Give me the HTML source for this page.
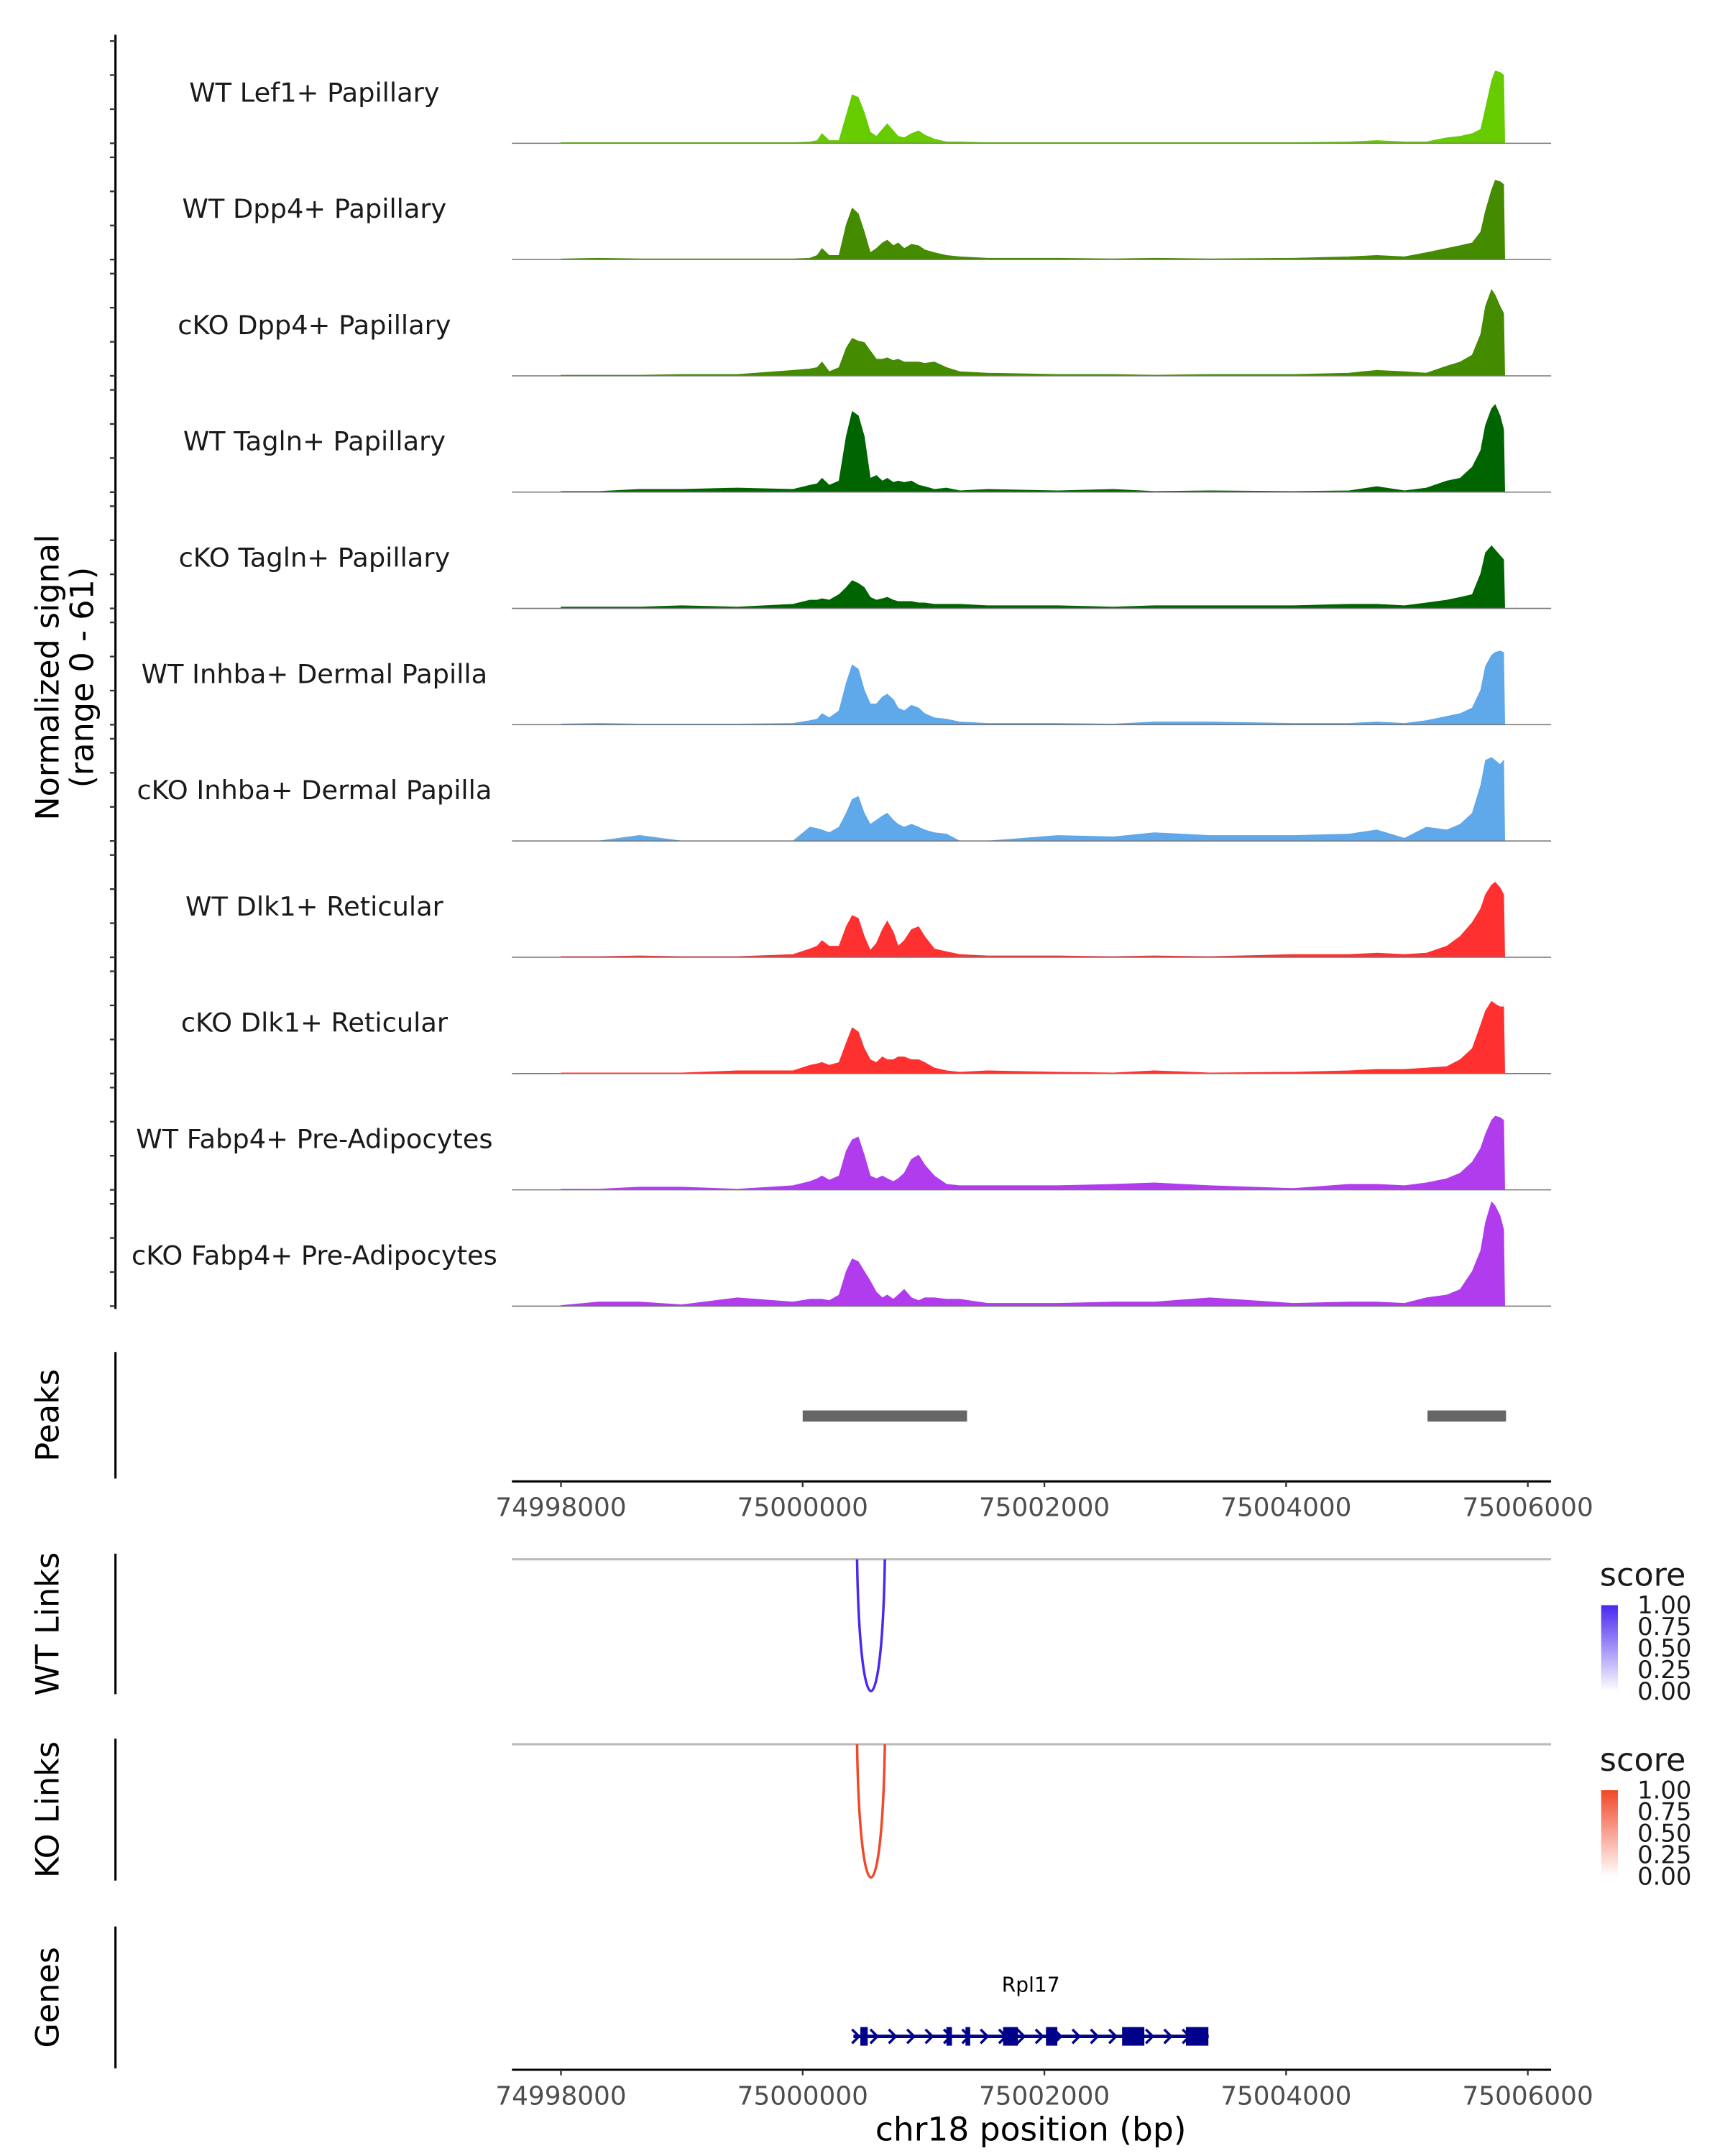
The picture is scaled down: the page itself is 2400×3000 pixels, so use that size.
<!DOCTYPE html>
<html><head><meta charset="utf-8"><style>
html,body{margin:0;padding:0;background:#fff}
svg{display:block}
text{font-family:"DejaVu Sans","Liberation Sans",sans-serif}
</style></head><body>
<svg id="chart" width="2400" height="3000" viewBox="0 0 1240 1550" xmlns="http://www.w3.org/2000/svg">
<g id="tracks"></g>
<g id="rest"></g>
</svg>
<script>
const trackNames = ["WT Lef1+ Papillary","WT Dpp4+ Papillary","cKO Dpp4+ Papillary","WT Tagln+ Papillary","cKO Tagln+ Papillary","WT Inhba+ Dermal Papilla","cKO Inhba+ Dermal Papilla","WT Dlk1+ Reticular","cKO Dlk1+ Reticular","WT Fabp4+ Pre-Adipocytes","cKO Fabp4+ Pre-Adipocytes"];
const trackColors = ["#66cc00","#458b00","#458b00","#006400","#006400","#5fa8ea","#5fa8ea","#ff3030","#ff3030","#b03cee","#b03cee"];
const positions = [74998000,74998310,74998650,74999000,74999460,74999920,75000060,75000120,75000160,75000220,75000300,75000360,75000410,75000460,75000510,75000560,75000610,75000660,75000700,75000750,75000790,75000840,75000900,75000960,75001010,75001090,75001190,75001300,75001530,75002110,75002570,75002910,75003370,75004060,75004520,75004750,75004980,75005160,75005330,75005440,75005540,75005610,75005650,75005700,75005730,75005770,75005800,75005810];
const sigLef1WT   = [0.5,0.5,0.5,0.5,0.5,0.5,1,2,7,2,2,20,35,33,22,8,5,10,14,9,5,4,7,9,6,3,1,1,0.5,0.5,0.5,0.5,0.5,0.5,1,2,1,1,4,5,7,10,25,45,52,51,49,0];
const sigDpp4WT   = [0.5,1,0.5,0.5,0.5,0.5,1,3,8,3,3,25,37,33,20,5,8,12,14,10,12,8,11,10,7,5,3,2,1,1,0.5,1,0.5,1,2,3,2,5,8,10,12,20,35,50,57,56,54,0];
const sigDpp4KO   = [0.5,0.5,0.5,1,1,4,5,6,10,3,6,20,27,25,24,18,12,12,13,11,12,10,10,10,9,10,6,3,2,1,1,0.5,1,1,2,4,3,2,7,10,15,30,50,62,58,50,45,0];
const sigTaglnWT  = [0.5,0.5,2,2,3,2,5,6,10,5,8,40,58,55,40,10,12,8,10,7,8,7,8,5,4,2,3,1,2,1,2,0.5,1,0.5,1,4,1,3,8,10,18,30,48,60,63,55,45,0];
const sigTaglnKO  = [1,1,1,2,1,3,6,6,7,6,10,15,20,18,15,8,6,7,8,6,5,5,5,4,4,3,3,3,2,2,1,2,2,2,3,3,2,4,6,8,10,25,40,45,42,38,35,0];
const sigInhbaWT  = [0.5,1,0.5,0.5,0.5,1,3,4,8,5,10,30,43,40,25,15,15,20,22,18,12,10,14,12,8,5,4,2,1,1,0.5,2,2,1,1,2,1,3,6,8,12,25,42,50,52,53,52,0];
const sigInhbaKO  = [0,0,4,0,0,0,10,9,8,6,10,20,30,32,20,12,15,18,20,15,12,10,12,10,8,6,5,0,0,4,3,6,4,4,5,8,2,10,8,12,20,40,58,60,58,55,58,0];
const sigDlk1WT   = [0.5,0.5,1,0.5,0.5,2,6,8,12,8,8,22,30,28,15,5,10,20,26,18,8,12,20,22,15,6,4,2,1,1,0.5,1,0.5,2,2,3,2,3,8,15,25,35,45,52,54,50,45,0];
const sigDlk1KO   = [0.5,0.5,0.5,0.5,2,2,6,7,8,6,8,22,33,30,18,10,8,12,10,10,12,12,10,10,8,4,2,1,2,1,0.5,2,0.5,1,2,3,3,4,5,10,18,35,45,52,50,48,48,0];
const sigFabp4WT  = [0.5,0.5,2,2,0.5,3,6,8,10,7,10,28,36,38,25,10,8,10,8,6,8,12,22,25,18,10,4,3,3,3,4,5,3,1,4,4,3,5,8,12,20,30,40,50,53,52,50,0];
const sigFabp4KO  = [0.5,3,3,1,6,3,5,5,5,4,8,25,34,32,25,18,10,6,8,5,8,12,6,4,6,6,5,5,2,2,3,3,6,2,3,3,2,6,8,12,25,40,60,75,72,65,55,0];
const trackSignals = [sigLef1WT,sigDpp4WT,sigDpp4KO,sigTaglnWT,sigTaglnKO,sigInhbaWT,sigInhbaKO,sigDlk1WT,sigDlk1KO,sigFabp4WT,sigFabp4KO];
const xTicks = [74998000,75000000,75002000,75004000,75006000];
const peakStarts = [75000000,75005170];
const peakEnds = [75001360,75005820];
const linkStartWT = 75000450, linkEndWT = 75000680, linkScoreWT = 0.9;
const linkStartKO = 75000450, linkEndKO = 75000680, linkScoreKO = 0.9;
const geneStart = 75000420, geneEnd = 75003360;
const exonStarts = [75000477,75001189,75001347,75001658,75002013,75002643,75003171];
const exonEnds   = [75000538,75001235,75001386,75001781,75002107,75002827,75003357];
const legendTicks = ["1.00","0.75","0.50","0.25","0.00"];

const NS="http://www.w3.org/2000/svg";
function mk(tag,attrs,parent){const e=document.createElementNS(NS,tag);for(const k in attrs)e.setAttribute(k,attrs[k]);parent.appendChild(e);return e;}
const X0=368,X1=1115;
function xs(bp){return 577+(bp-75000000)*0.086875;}
function ys(base,v){return base-v*1.0;}
const tracksG=document.getElementById('tracks');
const restG=document.getElementById('rest');

let e;
e=mk('line',{x1:83,y1:25,x2:83,y2:941,stroke:'#000','stroke-width':1.6},tracksG);


e=mk('text',{x:0,y:0,'font-size':23,'text-anchor':'middle',transform:'translate(42,487) rotate(-90)'},tracksG);
e.textContent='Normalized signal';


e=mk('text',{x:0,y:0,'font-size':23,'text-anchor':'middle',transform:'translate(67,487) rotate(-90)'},tracksG);
e.textContent='(range 0 - 61)';



for(let t=0;t<trackNames.length;t++){
  const base=103+t*83.6;
  const g=mk('g',{},tracksG);
  
  
  for(const v of [0,24.5,49,73.5]){
    const tk=mk('line',{x1:79,x2:83,y1:base-v,y2:base-v,stroke:'#333','stroke-width':1.2},g);
    
    
  }
  const lab=mk('text',{x:226,y:base-30,'font-size':19,'text-anchor':'middle',fill:'#1a1a1a'},g);
  lab.textContent=trackNames[t];
  
  
  const vals=trackSignals[t];
  let d='M'+xs(positions[0])+','+base;
  for(let i=0;i<positions.length;i++){d+=' L'+xs(positions[i]).toFixed(1)+','+ys(base,vals[i]).toFixed(1);}
  d+=' L'+xs(positions[positions.length-1]).toFixed(1)+','+base+' Z';
  const a=mk('path',{d:d,fill:trackColors[t],stroke:trackColors[t],'stroke-width':0.4},g);
  
  
  const bl=mk('line',{x1:X0,x2:X1,y1:base,y2:base,stroke:'#777','stroke-width':0.8},g);
  
  
}

function sideAxis(y1,y2,label,name){
  const l=mk('line',{x1:83,x2:83,y1:y1,y2:y2,stroke:'#000','stroke-width':1.6},restG);
  
  
  const t=mk('text',{x:0,y:0,'font-size':23,'text-anchor':'middle',transform:'translate(42,'+((y1+y2)/2)+') rotate(-90)'},restG);
  t.textContent=label;
  
  
}
function xAxis(y,name){
  const l=mk('line',{x1:X0,x2:X1,y1:y,y2:y,stroke:'#000','stroke-width':1.6},restG);
  
  
  for(const v of xTicks){
    const tk=mk('line',{x1:xs(v),x2:xs(v),y1:y,y2:y+4,stroke:'#333','stroke-width':1.2},restG);
    
    
    const tl=mk('text',{x:xs(v),y:y+25,'font-size':18.5,'text-anchor':'middle',fill:'#4d4d4d'},restG);
    tl.textContent=String(v);
    
    
  }
}
sideAxis(972,1063,'Peaks','peaks');
for(let i=0;i<peakStarts.length;i++){
  const r=mk('rect',{x:xs(peakStarts[i]),y:1014,width:xs(peakEnds[i])-xs(peakStarts[i]),height:8,fill:'#666'},restG);
  
  
}
xAxis(1065,'peaks-x-axis');

function linkPanel(top,bottom,label,name,s,e2,score,color,gid){
  sideAxis(top-4,bottom+2,label,name);
  const bl=mk('line',{x1:X0,x2:X1,y1:top,y2:top,stroke:'#bbb','stroke-width':1.6},restG);
  
  
  const x1=xs(s),x2=xs(e2),h=(bottom-top)*score/0.9;
  const p=mk('path',{d:'M'+x1+','+top+' C'+(x1+2)+','+(top+h*1.33)+' '+(x2-2)+','+(top+h*1.33)+' '+x2+','+top,fill:'none',stroke:color,'stroke-width':1.8},restG);
  
  
  const lt=mk('text',{x:1150,y:top+19,'font-size':23,fill:'#1a1a1a'},restG);
  lt.textContent='score';
  
  
  const defs=mk('defs',{},restG);
  const gr=mk('linearGradient',{id:gid,x1:0,y1:0,x2:0,y2:1},defs);
  mk('stop',{offset:0,'stop-color':color},gr);
  mk('stop',{offset:1,'stop-color':'#ffffff'},gr);
  const cb=mk('rect',{x:1151,y:top+33,width:12,height:62,fill:'url(#'+gid+')'},restG);
  
  
  for(let i=0;i<legendTicks.length;i++){
    const yy=top+33+i*15.5;
    const tx=mk('text',{x:1177,y:yy+6,'font-size':17.5,fill:'#1a1a1a'},restG);
    tx.textContent=legendTicks[i];
    
    
  }
}
linkPanel(1121,1216,'WT Links','wt-links',linkStartWT,linkEndWT,linkScoreWT,'#4a28f0','gblue');
linkPanel(1254,1350,'KO Links','ko-links',linkStartKO,linkEndKO,linkScoreKO,'#f04828','gred');

sideAxis(1385,1487,'Genes','genes');
const gy=1464;
const gl=mk('line',{x1:xs(geneStart),x2:xs(geneEnd),y1:gy,y2:gy,stroke:'#00008b','stroke-width':2.5},restG);


for(let x=xs(geneStart)+1;x<xs(geneEnd)-4;x+=13.2){
  const c=mk('path',{d:'M'+(x-2)+','+(gy-5)+' L'+(x+3)+','+gy+' L'+(x-2)+','+(gy+5),fill:'none',stroke:'#00008b','stroke-width':1.8},restG);
  
  
}
for(let i=0;i<exonStarts.length;i++){
  const r=mk('rect',{x:xs(exonStarts[i]),y:gy-6.7,width:xs(exonEnds[i])-xs(exonStarts[i]),height:13.4,fill:'#00008b'},restG);
  
  
}
const gn=mk('text',{x:741,y:1432,'font-size':14.5,'text-anchor':'middle',fill:'#000'},restG);
gn.textContent='Rpl17';


xAxis(1488,'genes-x-axis');
const xt=mk('text',{x:741,y:1539,'font-size':23.5,'text-anchor':'middle',fill:'#000'},restG);
xt.textContent='chr18 position (bp)';


</script>
</body></html>
